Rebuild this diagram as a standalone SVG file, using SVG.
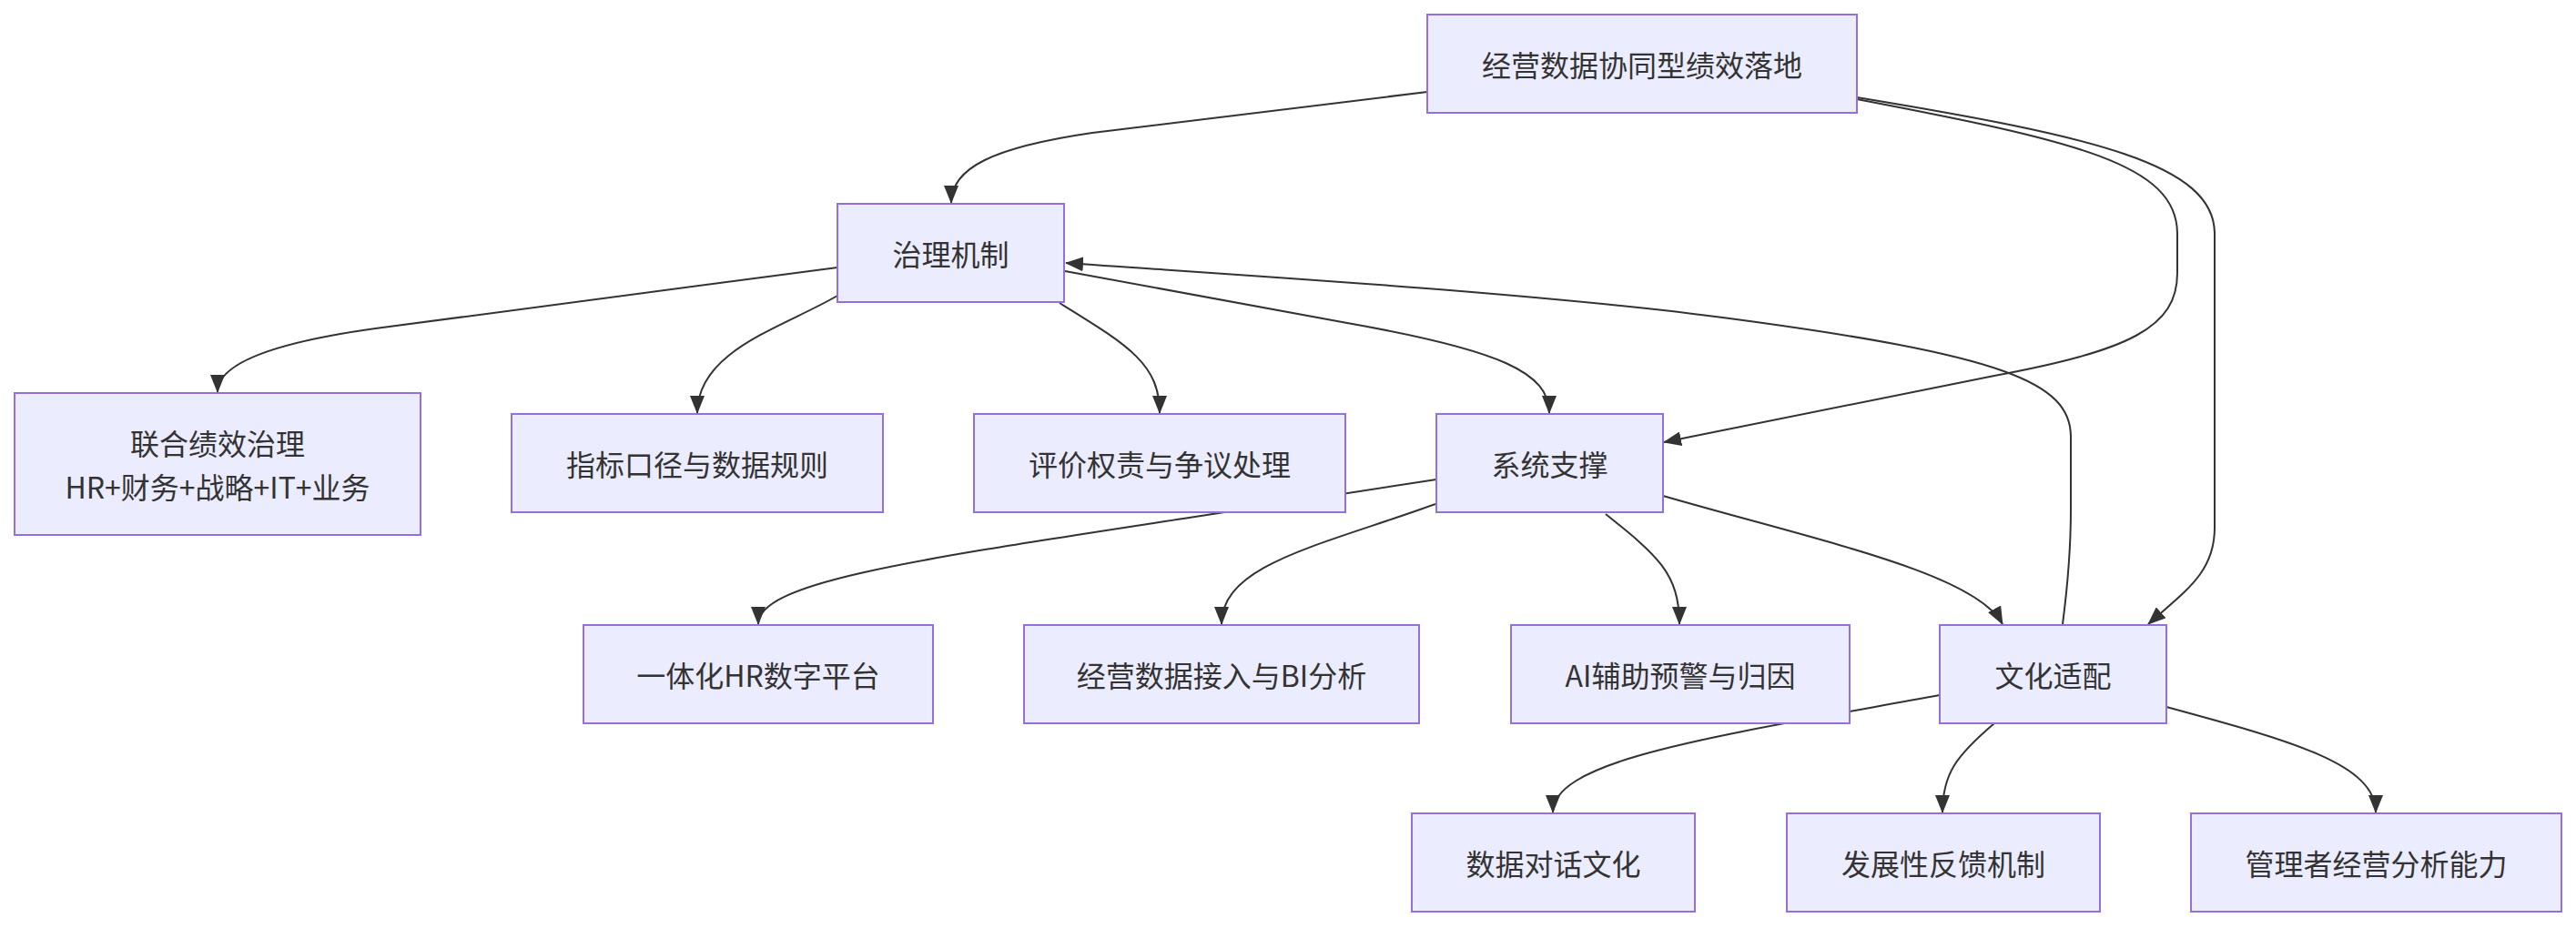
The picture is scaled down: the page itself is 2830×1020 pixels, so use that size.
<svg xmlns="http://www.w3.org/2000/svg" width="2830" height="1020" viewBox="0 0 2830 1020">
<style>
.node rect{fill:#ECECFF;stroke:#9370DB;stroke-width:2}
.node text{font-family:"Noto Sans CJK SC","Noto Sans",sans-serif;font-size:32px;fill:#333;text-anchor:middle;dominant-baseline:central}
.edges path{fill:none;stroke:#333;stroke-width:2;marker-end:url(#arrow)}
</style>
<defs>
<marker id="arrow" markerUnits="userSpaceOnUse" markerWidth="20" markerHeight="16" viewBox="0 0 20 16" refX="19" refY="8" orient="auto">
<path d="M0,0 L20,8 L0,16 z" fill="#333"/>
</marker>
</defs>
<rect width="2830" height="1020" fill="#fff"/>
<g class="edges">
<path d="M1568,101 L1200,146 C1090,162 1045,185 1045,223"/>
<path d="M2040,109 C2280,155 2392,180 2392,257 L2392,300 C2392,360 2340,385 2191,413 L1828,486"/>
<path d="M2040,107 C2300,150 2433,180 2433,257 L2433,580 C2433,630 2400,650 2360,686"/>
<path d="M920,294 L420,360 C300,376 239,400 239,431"/>
<path d="M920,325 C860,360 766,385 766,454"/>
<path d="M1164,333 C1240,380 1274,400 1274,454"/>
<path d="M1170,298 L1480,355 C1650,385 1702,410 1702,454"/>
<path d="M2266,686 C2272,640 2275,600 2275,560 L2275,480 C2275,420 2200,390 1900,350 C1700,323 1400,305 1171,289"/>
<path d="M1578,527 L1300,570 C1000,616 833,640 833,686"/>
<path d="M1577,554 C1450,600 1342,620 1342,686"/>
<path d="M1764,565 C1820,610 1845,630 1845,686"/>
<path d="M1827,545 C2000,595 2170,630 2200,686"/>
<path d="M2131,764 C1880,810 1706,835 1706,893"/>
<path d="M2191,795 C2150,830 2134,850 2134,893"/>
<path d="M2380,777 C2520,815 2610,840 2610,893"/>
</g>
<g id="n-top" class="node"><rect x="1568" y="16" width="472" height="108"/><text x="1804" y="70">经营数据协同型绩效落地</text></g>
<g id="n-gov" class="node"><rect x="920" y="224" width="249" height="108"/><text x="1044.5" y="278">治理机制</text></g>
<g id="n-joint" class="node"><rect x="16" y="432" width="446" height="156"/><text x="239" y="486">联合绩效治理</text><text x="239" y="534">HR+财务+战略+IT+业务</text></g>
<g id="n-metric" class="node"><rect x="562" y="455" width="408" height="108"/><text x="766" y="509">指标口径与数据规则</text></g>
<g id="n-eval" class="node"><rect x="1070" y="455" width="408" height="108"/><text x="1274" y="509">评价权责与争议处理</text></g>
<g id="n-sys" class="node"><rect x="1578" y="455" width="249" height="108"/><text x="1702.5" y="509">系统支撑</text></g>
<g id="n-hr" class="node"><rect x="641" y="687" width="384" height="108"/><text x="833" y="741">一体化HR数字平台</text></g>
<g id="n-bi" class="node"><rect x="1125" y="687" width="434" height="108"/><text x="1342" y="741">经营数据接入与BI分析</text></g>
<g id="n-ai" class="node"><rect x="1660" y="687" width="372" height="108"/><text x="1846" y="741">AI辅助预警与归因</text></g>
<g id="n-culture" class="node"><rect x="2131" y="687" width="249" height="108"/><text x="2255.5" y="741">文化适配</text></g>
<g id="n-dialog" class="node"><rect x="1551" y="894" width="311" height="108"/><text x="1706.5" y="948">数据对话文化</text></g>
<g id="n-feedback" class="node"><rect x="1963" y="894" width="344" height="108"/><text x="2135" y="948">发展性反馈机制</text></g>
<g id="n-mgr" class="node"><rect x="2407" y="894" width="407" height="108"/><text x="2610.5" y="948">管理者经营分析能力</text></g>
</svg>
